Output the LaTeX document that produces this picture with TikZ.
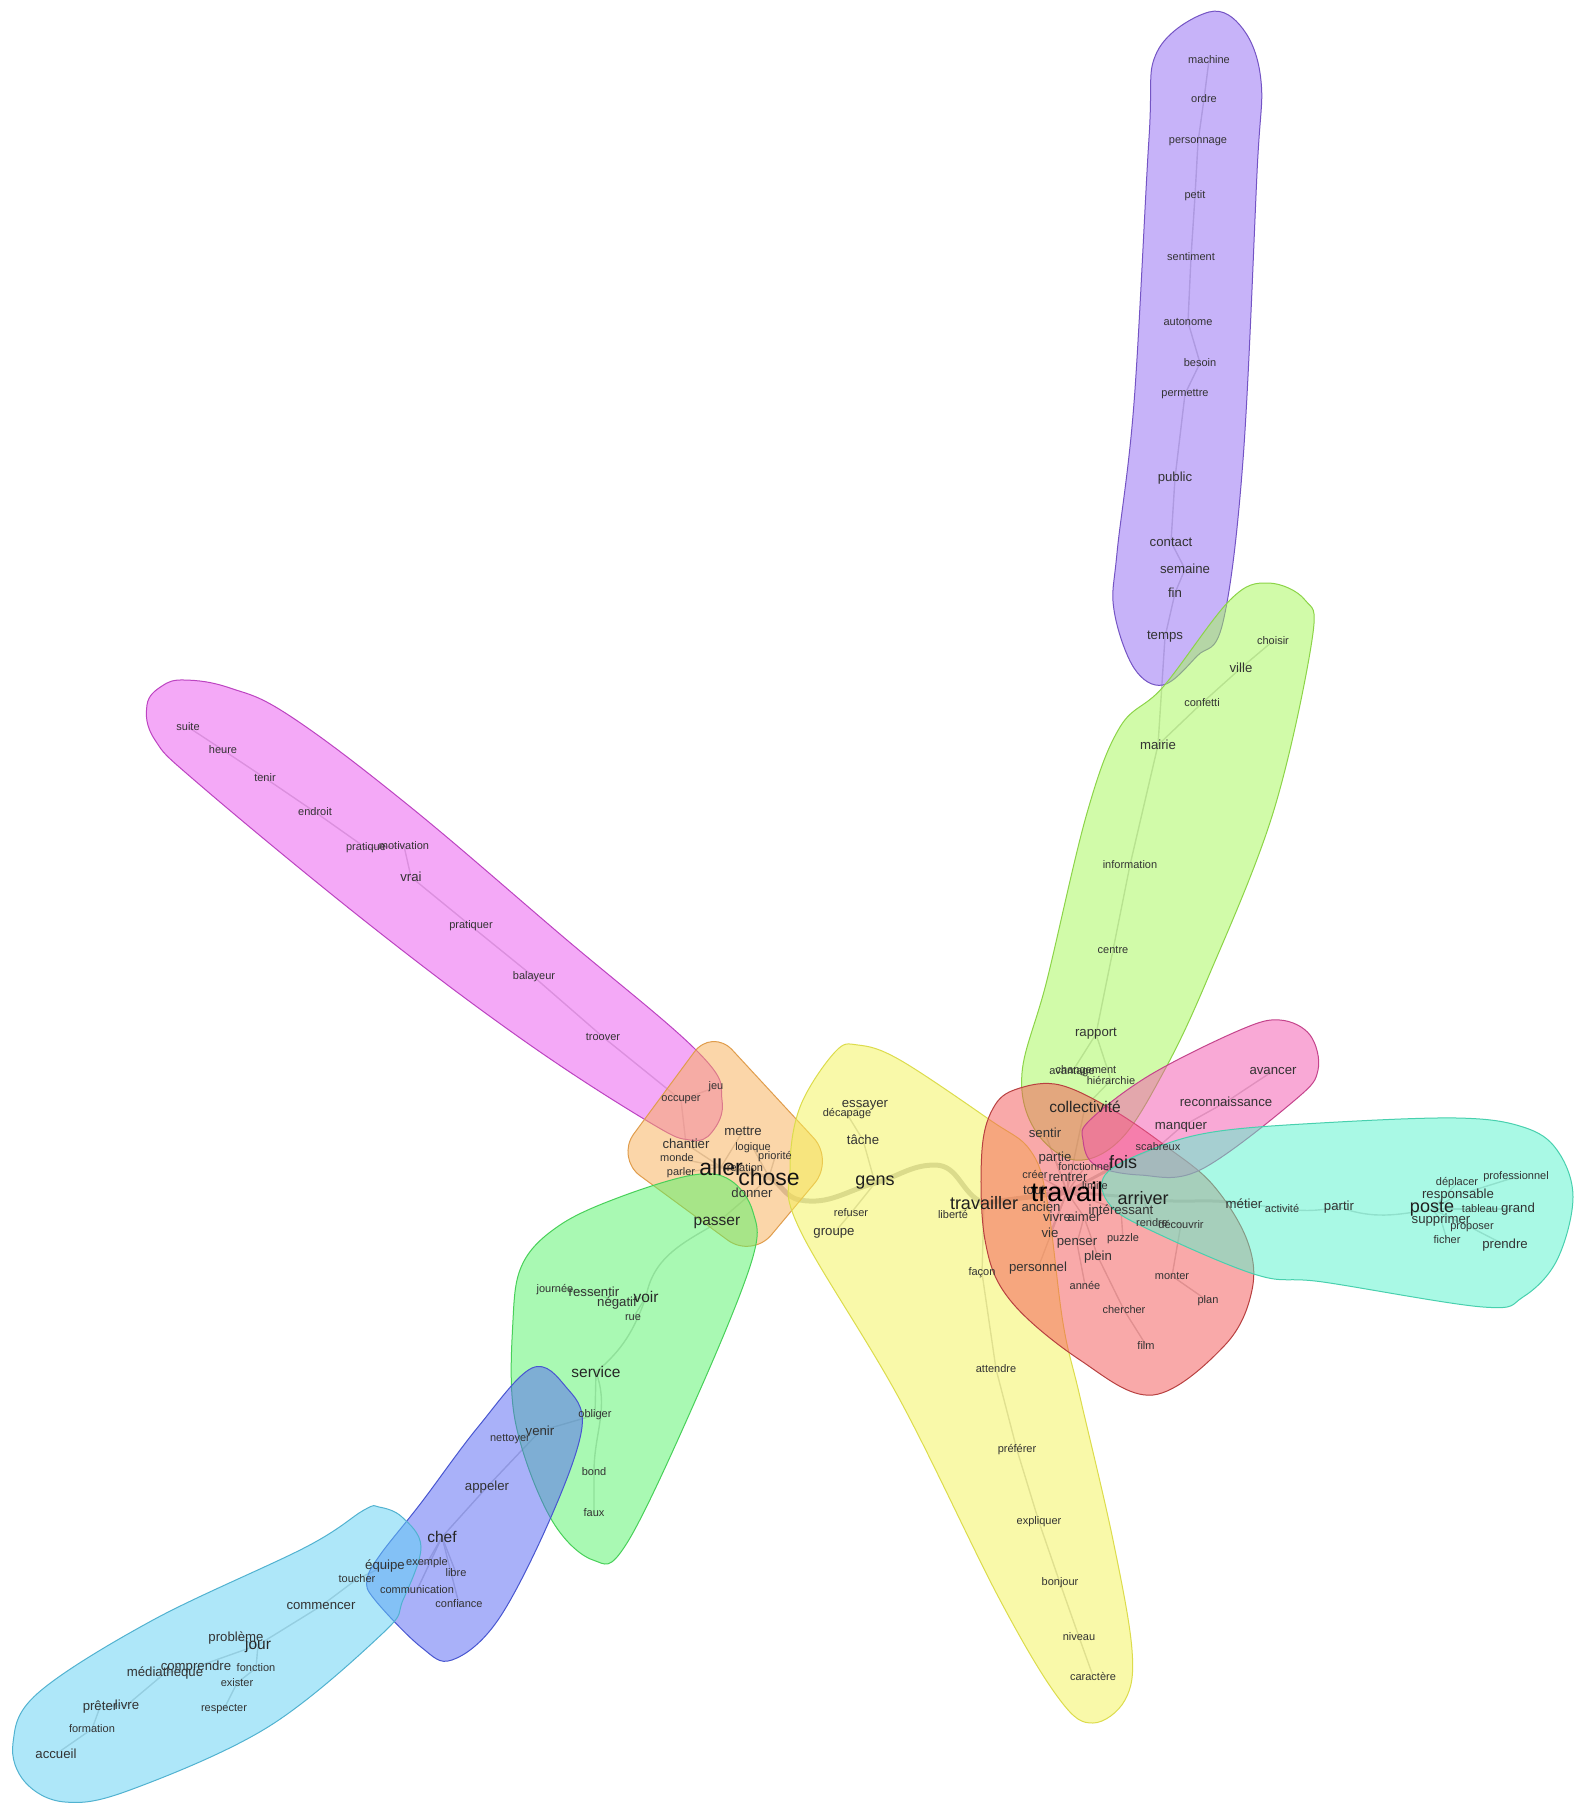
\documentclass[tikz,border=0pt]{standalone}
\usepackage{fontspec}
\setmainfont{Liberation Sans}
\usetikzlibrary{positioning}
\definecolor{cPurple}{RGB}{145,105,245}
\definecolor{cLime}{RGB}{165,249,85}
\definecolor{cMagenta}{RGB}{235,85,241}
\definecolor{cOrange}{RGB}{249,175,85}
\definecolor{cYellow}{RGB}{245,245,85}
\definecolor{cRed}{RGB}{245,85,85}
\definecolor{cPink}{RGB}{245,85,175}
\definecolor{cTeal}{RGB}{85,245,205}
\definecolor{cGreen}{RGB}{85,245,105}
\definecolor{cBlue}{RGB}{85,101,245}
\definecolor{cCyan}{RGB}{95,209,245}
\pgfdeclarelayer{edges}
\pgfdeclarelayer{hulls}
\pgfsetlayers{edges,hulls,main}

\begin{document}
\begin{tikzpicture}[x=1pt,y=-1pt,
word/.style={inner sep=0pt, text=black!80, font=\fontsize{11}{11}\selectfont},
wmid/.style={word, font=\fontsize{13.2}{13.2}\selectfont},
wbig/.style={word, text=black!85, font=\fontsize{15.5}{15.5}\selectfont},
wlarge/.style={word, text=black!88, font=\fontsize{18}{18}\selectfont},
whuge/.style={word, text=black!92, font=\fontsize{23}{23}\selectfont},
wtop/.style={word, text=black, font=\fontsize{27}{27}\selectfont},
rel/.style={draw=black!20, line width=1.4pt, line cap=round},
relmid/.style={rel, line width=3pt},
relbig/.style={rel, line width=5pt, draw=black!24},
hull/.style={line width=1pt, fill opacity=0.5}]
\useasboundingbox (0,0) rectangle (1576,1805);

% purple
\node[word] (machine) at (1209,60) {machine};
\node[word] (ordre) at (1204,99) {ordre};
\node[word] (personnage) at (1198,142) {personnage};
\node[word] (petit) at (1195,196) {petit};
\node[word] (sentiment) at (1191,257) {sentiment};
\node[word] (autonome) at (1188,322) {autonome};
\node[word] (besoin) at (1200,363) {besoin};
\node[word] (permettre) at (1185,394) {permettre};
\node[wmid] (public) at (1175,478) {public};
\node[wmid] (contact) at (1171,542) {contact};
\node[wmid] (semaine) at (1185,569) {semaine};
\node[wmid] (fin) at (1175,593) {fin};
\node[wmid] (temps) at (1165,637) {temps};
% lime
\node[word] (choisir) at (1273,641) {choisir};
\node[wmid] (ville) at (1241,668) {ville};
\node[word] (confetti) at (1202,703) {confetti};
\node[wmid] (mairie) at (1158,745) {mairie};
\node[word] (information) at (1130,865) {information};
\node[word] (centre) at (1113,950) {centre};
\node[wmid] (rapport) at (1096,1034) {rapport};
\node[word] (avantage) at (1072,1072) {avantage};
\node[word] (changement) at (1086,1071) {changement};
\node[word] (hierarchie) at (1111,1080) {hiérarchie};
\node[wbig] (collectivite) at (1085,1107) {collectivité};
% red
\node[wmid] (sentir) at (1045,1133) {sentir};
\node[wmid] (partie) at (1055,1158) {partie};
\node[word] (fonctionnel) at (1085,1167) {fonctionnel};
\node[word] (creer) at (1035,1174) {créer};
\node[wmid] (rentrer) at (1068,1177) {rentrer};
\node[wmid] (tout) at (1034,1190) {tout};
\node[word] (limite) at (1095,1186) {limite};
\node[wlarge] (fois) at (1123,1162) {fois};
\node[wtop] (travail) at (1067,1192) {travail};
\node[wmid] (ancien) at (1041,1207) {ancien};
\node[wmid] (interessant) at (1121,1210) {intéressant};
\node[wlarge] (arriver) at (1143,1198) {arriver};
\node[wmid] (vivre) at (1057,1217) {vivre};
\node[wmid] (aimer) at (1084,1217) {aimer};
\node[word] (rendre) at (1152,1223) {rendre};
\node[word] (decouvrir) at (1181,1224) {découvrir};
\node[wmid] (vie) at (1050,1233) {vie};
\node[wmid] (penser) at (1077,1243) {penser};
\node[word] (puzzle) at (1123,1239) {puzzle};
\node[wmid] (plein) at (1098,1257) {plein};
\node[wmid] (personnel) at (1038,1268) {personnel};
\node[word] (annee) at (1085,1285) {année};
\node[word] (monter) at (1172,1276) {monter};
\node[word] (plan) at (1208,1301) {plan};
\node[word] (chercher) at (1124,1310) {chercher};
\node[word] (film) at (1146,1345) {film};
% pink
\node[wmid] (avancer) at (1273,1071) {avancer};
\node[wmid] (reconnaissance) at (1226,1102) {reconnaissance};
\node[wmid] (manquer) at (1181,1127) {manquer};
\node[word] (scabreux) at (1158,1147) {scabreux};
% teal
\node[wmid] (metier) at (1244,1204) {métier};
\node[word] (activite) at (1282,1208) {activité};
\node[wmid] (partir) at (1339,1207) {partir};
\node[wlarge] (poste) at (1432,1209) {poste};
\node[wmid] (supprimer) at (1441,1220) {supprimer};
\node[word] (deplacer) at (1457,1183) {déplacer};
\node[word] (professionnel) at (1516,1177) {professionnel};
\node[wmid] (responsable) at (1458,1195) {responsable};
\node[word] (tableau) at (1480,1209) {tableau};
\node[wmid] (grand) at (1518,1209) {grand};
\node[word] (proposer) at (1472,1228) {proposer};
\node[word] (ficher) at (1447,1240) {ficher};
\node[wmid] (prendre) at (1505,1245) {prendre};
% yellow
\node[wlarge] (travailler) at (984,1203) {travailler};
\node[word] (liberte) at (953,1214) {liberté};
\node[word] (facon) at (982,1273) {façon};
\node[wlarge] (gens) at (875,1183) {gens};
\node[wmid] (essayer) at (865,1105) {essayer};
\node[word] (decapage) at (847,1114) {décapage};
\node[wmid] (tache) at (863,1140) {tâche};
\node[word] (refuser) at (851,1213) {refuser};
\node[wmid] (groupe) at (834,1233) {groupe};
\node[word] (attendre) at (996,1369) {attendre};
\node[word] (preferer) at (1017,1450) {préférer};
\node[word] (expliquer) at (1039,1522) {expliquer};
\node[word] (bonjour) at (1060,1583) {bonjour};
\node[word] (niveau) at (1079,1637) {niveau};
\node[word] (caractere) at (1093,1676) {caractère};
% orange
\node[word] (occuper) at (681,1100) {occuper};
\node[word] (jeu) at (716,1087) {jeu};
\node[wmid] (mettre) at (743,1131) {mettre};
\node[wmid] (chantier) at (686,1144) {chantier};
\node[word] (logique) at (753,1148) {logique};
\node[word] (priorite) at (775,1157) {priorité};
\node[word] (monde) at (677,1158) {monde};
\node[word] (parler) at (681,1173) {parler};
\node[word] (relation) at (745,1168) {relation};
\node[whuge] (aller) at (721,1167) {aller};
\node[whuge] (chose) at (769,1177) {chose};
\node[wmid] (donner) at (752,1193) {donner};
\node[wbig] (passer) at (717,1223) {passer};
% green
\node[word] (journee) at (555,1290) {journée};
\node[wmid] (ressentir) at (594,1292) {ressentir};
\node[wmid] (negatif) at (617,1303) {négatif};
\node[wbig] (voir) at (646,1297) {voir};
\node[word] (rue) at (633,1318) {rue};
\node[wbig] (service) at (596,1372) {service};
\node[word] (obliger) at (595,1415) {obliger};
\node[word] (bond) at (594,1472) {bond};
\node[word] (faux) at (594,1513) {faux};
% blue
\node[wmid] (venir) at (540,1431) {venir};
\node[word] (nettoyer) at (510,1439) {nettoyer};
\node[wmid] (appeler) at (487,1487) {appeler};
\node[wbig] (chef) at (442,1537) {chef};
\node[wmid] (equipe) at (385,1566) {équipe};
\node[word] (exemple) at (427,1563) {exemple};
\node[word] (libre) at (456,1573) {libre};
\node[word] (toucher) at (357,1579) {toucher};
\node[word] (communication) at (417,1590) {communication};
\node[word] (confiance) at (459,1604) {confiance};
% cyan
\node[wmid] (commencer) at (321,1606) {commencer};
\node[wmid] (probleme) at (236,1638) {problème};
\node[wbig] (jour) at (258,1645) {jour};
\node[wmid] (mediatheque) at (165,1673) {médiathèque};
\node[wmid] (comprendre) at (196,1667) {comprendre};
\node[word] (fonction) at (256,1668) {fonction};
\node[word] (exister) at (237,1683) {exister};
\node[word] (respecter) at (224,1709) {respecter};
\node[wmid] (preter) at (100,1707) {prêter};
\node[wmid] (livre) at (127,1705) {livre};
\node[word] (formation) at (92,1729) {formation};
\node[wmid] (accueil) at (56,1754) {accueil};
% magenta
\node[word] (suite) at (188,727) {suite};
\node[word] (heure) at (223,750) {heure};
\node[word] (tenir) at (265,778) {tenir};
\node[word] (endroit) at (315,812) {endroit};
\node[word] (pratique) at (366,848) {pratique};
\node[word] (motivation) at (404,846) {motivation};
\node[wmid] (vrai) at (411,877) {vrai};
\node[word] (pratiquer) at (471,926) {pratiquer};
\node[word] (balayeur) at (534,977) {balayeur};
\node[word] (troover) at (603,1037) {troover};

\begin{pgfonlayer}{edges}
\fill[white] (0,0) rectangle (1576,1805);
\draw[rel] (machine.center)--(ordre.center)--(personnage.center)--(petit.center)--(sentiment.center)--(autonome.center)--(besoin.center)--(permettre.center)--(public.center)--(contact.center)--(semaine.center)--(fin.center)--(temps.center)--(mairie.center);
\draw[rel] (choisir.center)--(ville.center)--(confetti.center)--(mairie.center)--(information.center)--(centre.center)--(rapport.center)--(hierarchie.center)--(collectivite.center)--(travail.center);
\draw[rel] (rapport.center)--(avantage.center)--(changement.center);
\draw[rel] (travail.center)--(sentir.center);
\draw[rel] (travail.center)--(partie.center);
\draw[rel] (travail.center)--(fonctionnel.center);
\draw[rel] (travail.center)--(creer.center);
\draw[rel] (travail.center)--(rentrer.center);
\draw[rel] (travail.center)--(tout.center);
\draw[rel] (travail.center)--(limite.center);
\draw[rel] (travail.center)--(ancien.center);
\draw[rel] (travail.center)--(vivre.center);
\draw[rel] (travail.center)--(aimer.center);
\draw[rel] (travail.center)--(vie.center);
\draw[rel] (travail.center)--(interessant.center)--(puzzle.center);
\draw[rel] (travail.center)--(personnel.center);
\draw[rel] (aimer.center)--(penser.center)--(annee.center);
\draw[rel] (aimer.center)--(plein.center)--(chercher.center)--(film.center);
\draw[relmid] (travail.center)--(fois.center);
\draw[rel] (fois.center)--(scabreux.center)--(manquer.center)--(reconnaissance.center)--(avancer.center);
\draw[relmid] (travail.center)--(arriver.center) to[out=-10,in=170] (metier.center);
\draw[rel] (metier.center)--(activite.center) to[out=-10,in=190] (partir.center) to[out=-20,in=190] (poste.center);
\draw[rel] (arriver.center)--(rendre.center)--(decouvrir.center)--(monter.center)--(plan.center);
\draw[rel] (poste.center)--(supprimer.center)--(ficher.center);
\draw[rel] (poste.center)--(deplacer.center);
\draw[rel] (poste.center)--(responsable.center)--(professionnel.center);
\draw[rel] (poste.center)--(tableau.center)--(grand.center);
\draw[rel] (poste.center)--(proposer.center)--(prendre.center);
\draw[relbig] (travail.center)--(travailler.center);
\draw[rel] (travailler.center)--(liberte.center);
\draw[rel] (travailler.center)--(facon.center)--(attendre.center)--(preferer.center)--(expliquer.center)--(bonjour.center)--(niveau.center)--(caractere.center);
\draw[relbig] (travailler.center) to[out=160,in=0] (935,1165) to[out=180,in=15] (gens.center) to[out=195,in=-10] (800,1200) to[out=170,in=-30] (chose.center);
\draw[rel] (gens.center)--(tache.center)--(decapage.center)--(essayer.center);
\draw[rel] (gens.center)--(refuser.center)--(groupe.center);
\draw[relmid] (chose.center)--(aller.center);
\draw[rel] (chose.center)--(logique.center);
\draw[rel] (chose.center)--(priorite.center);
\draw[rel] (chose.center)--(relation.center);
\draw[rel] (aller.center)--(mettre.center);
\draw[rel] (aller.center)--(monde.center);
\draw[rel] (aller.center)--(parler.center);
\draw[rel] (aller.center)--(chantier.center)--(occuper.center)--(troover.center)--(balayeur.center)--(pratiquer.center)--(vrai.center)--(motivation.center)--(pratique.center)--(endroit.center)--(tenir.center)--(heure.center)--(suite.center);
\draw[rel] (occuper.center)--(jeu.center);
\draw[rel] (chose.center)--(donner.center)--(passer.center) to[out=-150,in=80] (voir.center)--(rue.center);
\draw[rel] (voir.center)--(negatif.center)--(ressentir.center)--(journee.center);
\draw[rel] (voir.center) to[out=-110,in=40] (service.center)--(obliger.center)--(venir.center)--(nettoyer.center);
\draw[rel] (service.center) to[out=-70,in=90] (bond.center)--(faux.center);
\draw[rel] (venir.center)--(appeler.center)--(chef.center)--(exemple.center)--(equipe.center)--(toucher.center)--(commencer.center)--(jour.center)--(probleme.center);
\draw[rel] (chef.center)--(libre.center);
\draw[rel] (chef.center)--(confiance.center);
\draw[rel] (chef.center)--(communication.center);
\draw[rel] (jour.center)--(fonction.center)--(exister.center)--(respecter.center);
\draw[rel] (jour.center)--(comprendre.center)--(mediatheque.center)--(livre.center)--(preter.center)--(formation.center)--(accueil.center);
\end{pgfonlayer}

\begin{pgfonlayer}{hulls}
\filldraw[hull, fill=cPurple, draw=cPurple!80!black] plot[smooth cycle, tension=0.6] coordinates {(1209,12) (1157,52) (1149,138) (1134,403) (1117,553) (1114,610) (1134,668) (1163,685) (1197,656) (1223,622) (1243,460) (1257,173) (1261,81) (1243,29)};
\filldraw[hull, fill=cLime, draw=cLime!85!black] plot[smooth cycle, tension=0.6] coordinates {(1268,583) (1305,600) (1312,640) (1273,813) (1207,980) (1163,1073) (1120,1140) (1075,1160) (1035,1130) (1022,1073) (1047,980) (1087,813) (1120,727) (1163,687) (1230,600)};
\filldraw[hull, fill=cMagenta, draw=cMagenta!80!black] plot[smooth cycle, tension=0.65] coordinates {(185,680) (230,688) (290,716) (408,805) (561,935) (699,1053) (722,1100) (712,1132) (690,1140) (649,1122) (523,1040) (370,925) (200,785) (155,740) (147,705) (162,686)};
\filldraw[hull, fill=cOrange, draw=cOrange!90!black, rounded corners=30pt] (712,1028) -- (834,1160) -- (752,1258) -- (616,1158) -- cycle;
\filldraw[hull, fill=cYellow, draw=cYellow!90!black] plot[smooth cycle, tension=0.6] coordinates {(858,1045) (835,1052) (800,1107) (790,1170) (800,1230) (900,1400) (1000,1600) (1060,1700) (1093,1723) (1125,1700) (1132,1650) (1113,1540) (1080,1397) (1063,1323) (1047,1200) (1030,1150) (990,1120) (900,1060)};
\filldraw[hull, fill=cRed, draw=cRed!75!black] plot[smooth cycle, tension=0.6] coordinates {(1020,1088) (1060,1085) (1113,1110) (1167,1147) (1213,1185) (1247,1240) (1252,1290) (1225,1345) (1153,1395) (1080,1360) (1010,1300) (985,1240) (982,1150) (995,1105)};
\filldraw[hull, fill=cPink, draw=cPink!80!black] plot[smooth cycle, tension=0.6] coordinates {(1083,1140) (1090,1120) (1150,1075) (1240,1030) (1280,1020) (1310,1035) (1318,1070) (1295,1100) (1200,1170) (1140,1175) (1095,1165)};
\filldraw[hull, fill=cTeal, draw=cTeal!85!black] plot[smooth cycle, tension=0.6] coordinates {(1105,1175) (1150,1150) (1213,1132) (1320,1123) (1457,1118) (1523,1127) (1557,1150) (1573,1197) (1557,1260) (1523,1297) (1483,1307) (1323,1282) (1257,1275) (1150,1230) (1110,1205)};
\filldraw[hull, fill=cGreen, draw=cGreen!85!black] plot[smooth cycle, tension=0.6] coordinates {(560,1225) (620,1197) (693,1175) (730,1180) (753,1212) (752,1260) (700,1390) (627,1543) (593,1560) (550,1517) (515,1420) (513,1320) (523,1263)};
\filldraw[hull, fill=cBlue, draw=cBlue!85!black] plot[smooth cycle, tension=0.6] coordinates {(532,1368) (566,1387) (582,1427) (551,1517) (498,1620) (452,1660) (421,1647) (375,1600) (367,1580) (380,1555) (421,1503) (478,1427)};
\filldraw[hull, fill=cCyan, draw=cCyan!85!black] plot[smooth cycle, tension=0.6] coordinates {(379,1507) (402,1517) (421,1547) (403,1600) (383,1633) (268,1727) (130,1790) (65,1802) (25,1782) (13,1743) (38,1693) (153,1620) (306,1547) (364,1510)};
\end{pgfonlayer}
\end{tikzpicture}
\end{document}
